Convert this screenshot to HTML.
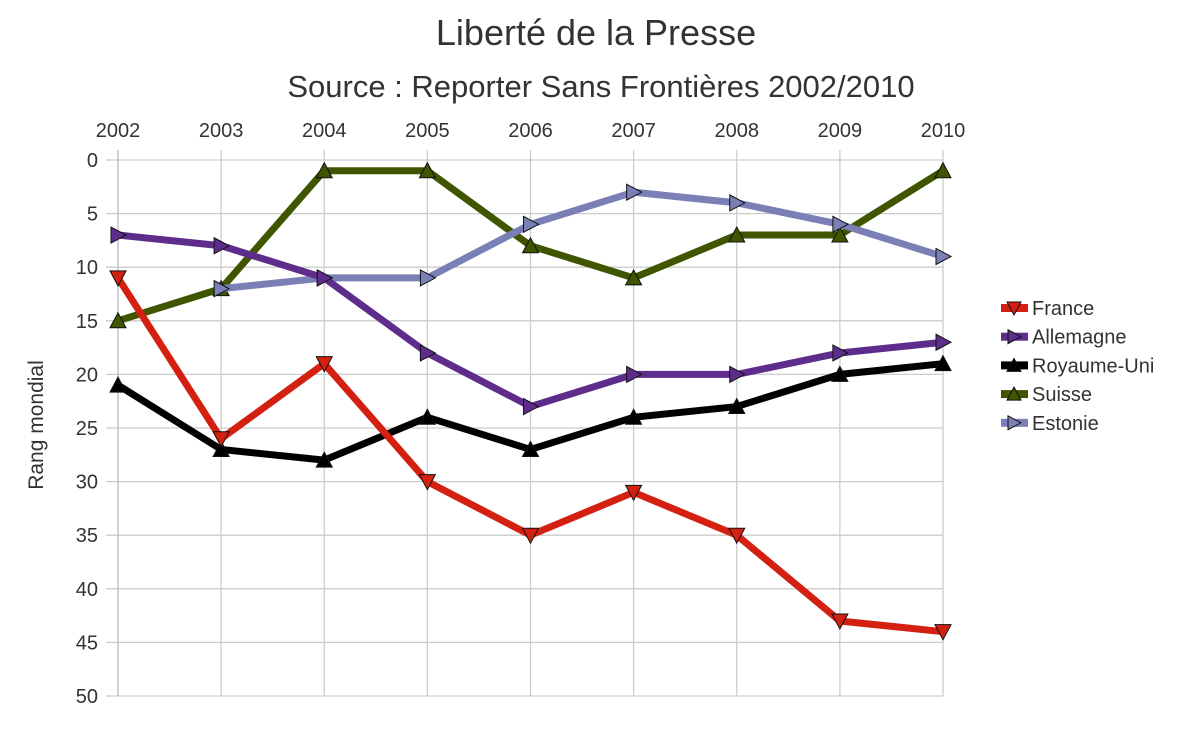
<!DOCTYPE html>
<html><head><meta charset="utf-8"><style>
body{margin:0;background:#fff;}
svg text{font-family:"Liberation Sans",sans-serif;fill:#333;}
</style></head><body>
<svg id="s" width="1200" height="731" xmlns="http://www.w3.org/2000/svg">
<text x="596" y="45" font-size="36" text-anchor="middle">Liberté de la Presse</text>
<text x="601" y="97" font-size="31" text-anchor="middle">Source : Reporter Sans Frontières 2002/2010</text>
<text transform="translate(43,425) rotate(-90)" font-size="21" text-anchor="middle">Rang mondial</text>
</svg>
<script>
var s=document.getElementById('s'),NS='http://www.w3.org/2000/svg';
function el(t,a,txt){var e=document.createElementNS(NS,t);for(var k in a)e.setAttribute(k,a[k]);if(txt!=null)e.textContent=txt;s.appendChild(e);return e;}
var x0=118,dx=103.125,y0=160,py=10.72;
function X(i){return x0+i*dx}function Y(v){return y0+v*py}
for(var v=0;v<=50;v+=5){el('line',{x1:106,x2:943,y1:Y(v),y2:Y(v),stroke:'#ccc','stroke-width':1.3});
el('text',{x:98,y:Y(v)+7,'font-size':20,'text-anchor':'end'},v);}
for(var i=0;i<9;i++){el('line',{x1:X(i),x2:X(i),y1:150,y2:696,stroke:i==0?'#bbb':'#ccc','stroke-width':1.3});
el('text',{x:X(i),y:137,'font-size':20,'text-anchor':'middle'},2002+i);}
var S=[
['France','#d42010',[11,26,19,30,35,31,35,43,44],'down'],
['Allemagne','#5e2d8c',[7,8,11,18,23,20,20,18,17],'right'],
['Royaume-Uni','#000',[21,27,28,24,27,24,23,20,19],'up'],
['Suisse','#3f5500',[15,12,1,1,8,11,7,7,1],'up'],
['Estonie','#7a7fb5',[null,12,11,11,6,3,4,6,9],'right']];
function mk(x,y,t,c,r){var p;r=r||8;
if(t=='down')p=[[x-r,y-r+1],[x+r,y-r+1],[x,y+r]];
else if(t=='up')p=[[x-r,y+r-1],[x+r,y+r-1],[x,y-r]];
else p=[[x-r+1,y-r],[x-r+1,y+r],[x+r,y]];
el('polygon',{points:p.map(function(a){return a.join(',')}).join(' '),fill:c,stroke:'#111','stroke-width':1});}
var order=[3,4,1,2,0];
order.forEach(function(k){var d=S[k],pts=[];d[2].forEach(function(v,i){if(v!=null)pts.push([X(i),Y(v)])});
el('polyline',{points:pts.map(function(a){return a.join(',')}).join(' '),fill:'none',stroke:d[1],'stroke-width':7,'stroke-linejoin':'round'});
pts.forEach(function(p){mk(p[0],p[1],d[3],d[1])});});
S.forEach(function(d,k){var y=308+k*28.7;
el('rect',{x:1001,y:y-4,width:27,height:8,fill:d[1]});mk(1014,y,d[3],d[1],7);
el('text',{x:1032,y:y+7,'font-size':20},d[0]);});
</script>
</body></html>
